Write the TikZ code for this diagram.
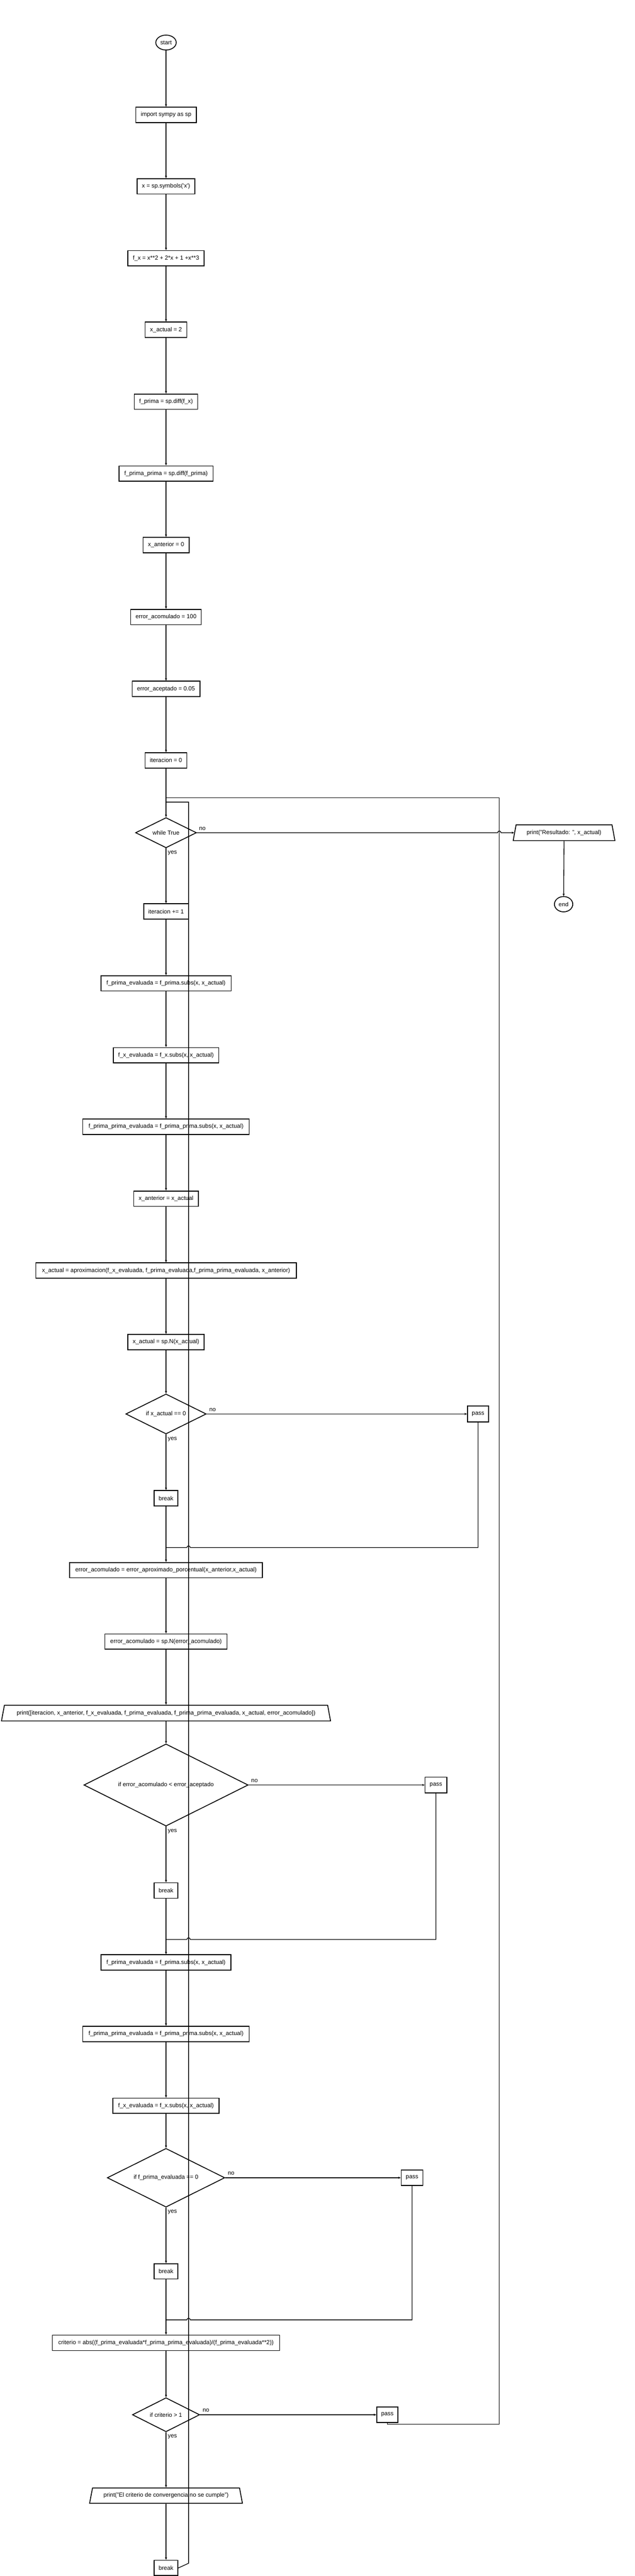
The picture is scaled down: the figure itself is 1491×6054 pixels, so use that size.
\documentclass[tikz,border=0pt]{standalone}
\usepackage{fontspec}
\setmainfont{Liberation Sans}
\usetikzlibrary{shapes.geometric,arrows.meta}
\begin{document}
\begin{tikzpicture}[x=1pt,y=-1pt,
  base/.style={draw, line width=2pt, font=\fontsize{13.8}{16}\selectfont, inner sep=0pt, text=black},
  box/.style={base, rectangle, minimum height=36pt},
  term/.style={base, ellipse, minimum height=36pt},
  cond/.style={base, diamond, aspect=2},
  io/.style={base, trapezium, trapezium left angle=62, trapezium right angle=62, trapezium stretches body, minimum height=37pt},
  conn/.style={line width=1.6pt},
  arr/.style={conn, -{Stealth[length=6pt,width=5pt]}},
  lbl/.style={font=\fontsize{13.8}{16}\selectfont, inner sep=0pt, anchor=west}]
\path[fill=white, use as bounding box] (0,0) rectangle (1491,6054);

% main column
\node[term, minimum width=48pt, minimum height=35pt] (start) at (390,100) {start};
\node[box, minimum width=142pt] (n1) at (390,270) {import sympy as sp};
\node[box, minimum width=136pt] (n2) at (390,438) {x = sp.symbols(\textquotesingle x\textquotesingle)};
\node[box, minimum width=179pt] (n3) at (390,607) {f\_x = x**2 + 2*x + 1 +x**3};
\node[box, minimum width=98pt] (n4) at (390,775) {x\_actual = 2};
\node[box, minimum width=149pt] (n5) at (390,944) {f\_prima = sp.diff(f\_x)};
\node[box, minimum width=221pt] (n6) at (390,1113) {f\_prima\_prima = sp.diff(f\_prima)};
\node[box, minimum width=108pt] (n7) at (390,1281) {x\_anterior = 0};
\node[box, minimum width=166pt] (n8) at (390,1450) {error\_acomulado = 100};
\node[box, minimum width=159pt] (n9) at (390,1619) {error\_aceptado = 0.05};
\node[box, minimum width=98pt] (n10) at (390,1787) {iteracion = 0};
\node[cond, minimum width=143pt, minimum height=71pt] (w1) at (390,1957) {while True};
\node[io, minimum width=239pt] (pr1) at (1325,1957) {print("Resultado: ", x\_actual)};
\node[term, minimum width=43pt] (end) at (1324,2125) {end};
\node[box, minimum width=105pt] (n11) at (390,2142) {iteracion += 1};
\node[box, minimum width=306pt] (n12) at (390,2311) {f\_prima\_evaluada = f\_prima.subs(x, x\_actual)};
\node[box, minimum width=248pt] (n13) at (390,2480) {f\_x\_evaluada = f\_x.subs(x, x\_actual)};
\node[box, minimum width=391pt] (n14) at (390,2648) {f\_prima\_prima\_evaluada = f\_prima\_prima.subs(x, x\_actual)};
\node[box, minimum width=152pt] (n15) at (390,2817) {x\_anterior = x\_actual};
\node[box, minimum width=612pt] (n16) at (390,2986) {x\_actual = aproximacion(f\_x\_evaluada, f\_prima\_evaluada,f\_prima\_prima\_evaluada, x\_anterior)};
\node[box, minimum width=179pt] (n17) at (390,3154) {x\_actual = sp.N(x\_actual)};
\node[cond, minimum width=189pt, minimum height=94pt] (c1) at (390,3323) {if x\_actual == 0};
\node[box, minimum width=50pt, minimum height=37pt] (p1) at (1123,3323) {pass};
\node[box, minimum width=56pt] (b1) at (390,3521) {break};
\node[box, minimum width=453pt] (n18) at (390,3690) {error\_acomulado = error\_aproximado\_porcentual(x\_anterior,x\_actual)};
\node[box, minimum width=287pt] (n19) at (390,3858) {error\_acomulado = sp.N(error\_acomulado)};
\node[io, minimum width=773pt] (pr2) at (390,4026) {print([iteracion, x\_anterior, f\_x\_evaluada, f\_prima\_evaluada, f\_prima\_prima\_evaluada, x\_actual, error\_acomulado])};
\node[cond, minimum width=386pt, minimum height=193pt] (c2) at (390,4195) {if error\_acomulado < error\_aceptado};
\node[box, minimum width=51pt, minimum height=37pt] (p2) at (1024,4195) {pass};
\node[box, minimum width=56pt] (b2) at (390,4443) {break};
\node[box, minimum width=305pt] (n20) at (390,4612) {f\_prima\_evaluada = f\_prima.subs(x, x\_actual)};
\node[box, minimum width=391pt] (n21) at (390,4780) {f\_prima\_prima\_evaluada = f\_prima\_prima.subs(x, x\_actual)};
\node[box, minimum width=249pt] (n22) at (390,4949) {f\_x\_evaluada = f\_x.subs(x, x\_actual)};
\node[cond, minimum width=276pt, minimum height=138pt] (c3) at (390,5118) {if f\_prima\_evaluada == 0};
\node[box, minimum width=51pt, minimum height=37pt] (p3) at (968,5118) {pass};
\node[box, minimum width=56pt] (b3) at (390,5338) {break};
\node[box, minimum width=534pt] (n23) at (390,5506) {criterio = abs((f\_prima\_evaluada*f\_prima\_prima\_evaluada)/(f\_prima\_evaluada**2))};
\node[cond, minimum width=158pt, minimum height=80pt] (c4) at (390,5675) {if criterio > 1};
\node[box, minimum width=50pt, minimum height=36pt] (p4) at (910,5675) {pass};
\node[io, minimum width=359pt, minimum height=36pt] (pr3) at (390,5865) {print("El criterio de convergencia no se cumple")};
\node[box, minimum width=56pt] (b4) at (390,6035) {break};

% labels
\node[lbl] (w1no) at ([xshift=5pt,yshift=10pt]w1.east) {no};
\node[lbl] (w1yes) at ([xshift=4pt,yshift=-11pt]w1.south) {yes};
\node[lbl] (c1no) at ([xshift=6pt,yshift=10pt]c1.east) {no};
\node[lbl] (c1yes) at ([xshift=4pt,yshift=-11pt]c1.south) {yes};
\node[lbl] (c2no) at ([xshift=6pt,yshift=10pt]c2.east) {no};
\node[lbl] (c2yes) at ([xshift=4pt,yshift=-11pt]c2.south) {yes};
\node[lbl] (c3no) at ([xshift=6pt,yshift=10pt]c3.east) {no};
\node[lbl] (c3yes) at ([xshift=4pt,yshift=-11pt]c3.south) {yes};
\node[lbl] (c4no) at ([xshift=6pt,yshift=10pt]c4.east) {no};
\node[lbl] (c4yes) at ([xshift=4pt,yshift=-11pt]c4.south) {yes};

% helper coordinates
\coordinate (m1) at (390,3637);
\coordinate (m2) at (390,4558);
\coordinate (m3) at (390,5452);
\coordinate (loopA) at (390,1875);
\coordinate (loopB) at (390,1885);
\coordinate (rx) at (1173,5697);
\coordinate (bx) at (443,6024);

% sequential arrows
\foreach \a/\b in {start/n1,n1/n2,n2/n3,n3/n4,n4/n5,n5/n6,n6/n7,n7/n8,n8/n9,n9/n10,n10/w1,
  w1/n11,n11/n12,n12/n13,n13/n14,n14/n15,n15/n16,n16/n17,n17/c1,
  c1/b1,b1/n18,n18/n19,n19/pr2,pr2/c2,c2/b2,b2/n20,n20/n21,n21/n22,n22/c3,
  c3/b3,b3/n23,n23/c4,c4/pr3,pr3/b4,pr1/end}
  \draw[arr] (\a) -- (\b);

% no branches
\draw[arr] (c1.east) -- (p1.west);
\draw[arr] (c2.east) -- (p2.west);
\draw[arr] (c3.east) -- (p3.west);
\draw[arr] (c4.east) -- (p4.west);
\draw[arr] (w1.east) -- (1169,1957) arc[start angle=180, end angle=0, radius=4pt] -- (pr1.west);

% merges back into main column (with jumps over the x=443 line)
\draw[conn] (p1.south) -- (p1.south |- m1) -- (447,3637) arc[start angle=0, end angle=180, radius=4pt] -- (m1);
\draw[conn] (p2.south) -- (p2.south |- m2) -- (447,4558) arc[start angle=0, end angle=180, radius=4pt] -- (m2);
\draw[conn] (p3.south) -- (p3.south |- m3) -- (447,5452) arc[start angle=0, end angle=180, radius=4pt] -- (m3);

% loop back from last pass
\draw[conn] (p4.south) -- (p4.south |- rx) -- (rx) -- (rx |- loopA) -- (loopA);
% loop back from last break
\draw[conn] (b4.east) -- (bx) -- (bx |- loopB) -- (loopB);
\end{tikzpicture}
\end{document}
